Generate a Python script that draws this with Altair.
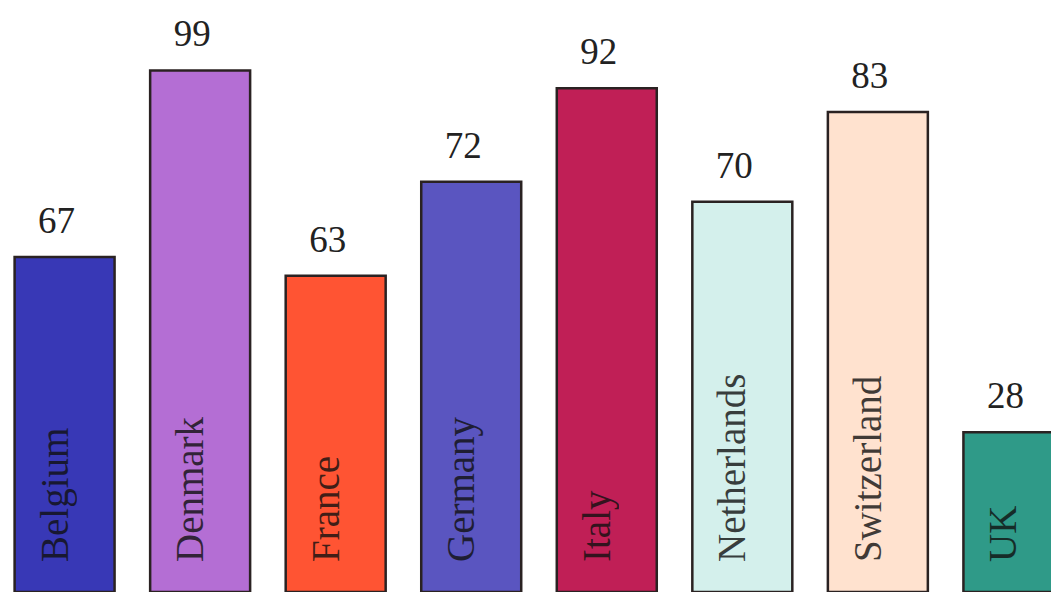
import altair as alt
import pandas as pd

countries = ["Belgium", "Denmark", "France", "Germany", "Italy", "Netherlands", "Switzerland", "UK"]
labels = [67, 99, 63, 72, 92, 70, 83, 28]
# bar heights as drawn (percent of the visible plot height)
bar_heights = [56.6, 88.1, 53.4, 69.3, 85.1, 65.9, 81.1, 27.0]
colors = ["#3838b6", "#b46ed4", "#ff5433", "#5a55c0", "#c01f56", "#d4f0ec", "#ffe2cf", "#2f9a88"]

df = pd.DataFrame({"country": countries, "label": labels, "h": bar_heights})

x = alt.X("country:N", sort=countries, axis=None,
          scale=alt.Scale(range=[0, 1078], paddingInner=0.2624, paddingOuter=0.1077))
y_scale = alt.Scale(domain=[0, 100])

base = alt.Chart(df)

bars = base.mark_bar(stroke="#2a2222", strokeWidth=2.5, clip=True).encode(
    x=x,
    y=alt.Y("h:Q", scale=y_scale, axis=None),
    y2=alt.value(620),
    color=alt.Color("country:N", scale=alt.Scale(domain=countries, range=colors), legend=None),
)

values = base.mark_text(font="Liberation Serif", fontSize=37, color="#222222",
                        baseline="alphabetic", align="center", dy=-24, dx=-8).encode(
    x=x,
    y=alt.Y("h:Q", scale=y_scale, axis=None),
    text=alt.Text("label:Q"),
)

names = base.mark_text(font="Liberation Serif", fontSize=39, color="#111111", opacity=0.8,
                       angle=270, align="left", baseline="alphabetic", dy=3).encode(
    x=x,
    y=alt.value(562),
    text="country:N",
)

chart = alt.layer(bars, values, names).properties(
    width=1051, height=592, padding=0,
    autosize=alt.AutoSizeParams(type="none"),
    background="white",
).configure_view(stroke=None)

chart.save("out.html", embed_options={"renderer": "svg", "actions": False})
